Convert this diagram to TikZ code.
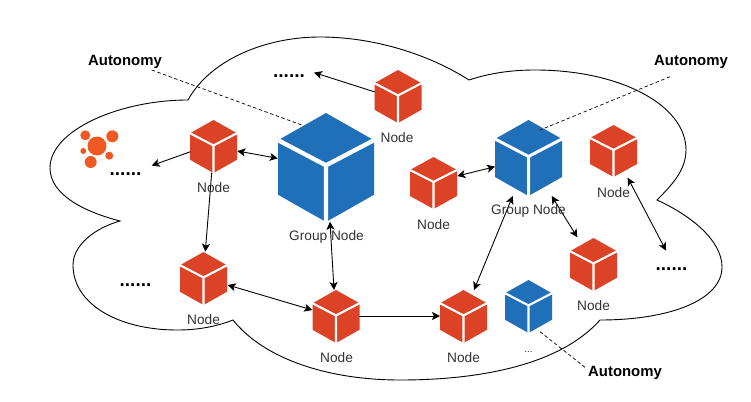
\documentclass[tikz,border=0pt]{standalone}
\usepackage{fontspec}
\setmainfont{Liberation Sans}
\usetikzlibrary{arrows.meta}
\definecolor{cubered}{HTML}{DB4226}
\definecolor{cubeblue}{HTML}{1F70B8}
\definecolor{orangeicon}{HTML}{F05A22}
\definecolor{labelgrey}{HTML}{333333}
\tikzset{
  conn/.style={draw=black,line width=0.9pt,-{Stealth[length=8pt,width=8pt,inset=2pt]}},
  biconn/.style={draw=black,line width=0.9pt,{Stealth[length=8pt,width=8pt,inset=2pt]}-{Stealth[length=8pt,width=8pt,inset=2pt]}},
  dashconn/.style={draw=black,line width=0.7pt,dash pattern=on 3.5pt off 2.5pt},
  nodelabel/.style={font=\fontsize{13.7}{15}\selectfont,text=labelgrey,inner sep=0pt},
  autolabel/.style={font=\fontsize{14.9}{16}\selectfont\bfseries,text=black,inner sep=0pt},
  dotslabel/.style={font=\fontsize{19}{20}\selectfont\bfseries,text=black,inner sep=0pt,anchor=base},
  cloudline/.style={draw=black,line width=0.9pt},
}
\newcommand{\cubenode}[6]{%
  \begin{scope}[shift={(#2,#3)},x=#4pt,y=-#5pt]
    \fill[#6] (0,-.5) -- (.5,-.25) -- (.5,.25) -- (0,.5) -- (-.5,.25) -- (-.5,-.25) -- cycle;
    \draw[white,line width={0.045*#4 pt}] (-.52,-.26) -- (0,-.02) -- (.52,-.26) (0,-.02) -- (0,.52);
  \end{scope}
  \node[inner sep=0pt,minimum width=#4pt,minimum height=#5pt] (#1) at (#2,#3) {};
}
\begin{document}
\begin{tikzpicture}[x=1pt,y=-1pt]
\useasboundingbox (0,0) rectangle (751,401);
\fill[white] (0,0) rectangle (751,401);
% cloud
\draw[cloudline] (188,100)
  .. controls (210,60) and (265,37) .. (320,37)
  .. controls (375,37) and (430,55) .. (469,80)
  .. controls (490,73) and (512,70) .. (535,70)
  .. controls (620,70) and (686,105) .. (686,150)
  .. controls (686,170) and (672,185) .. (657,200)
  .. controls (690,215) and (722,240) .. (722,267)
  .. controls (722,300) and (670,320) .. (600,320)
  .. controls (560,365) and (480,380) .. (400,380)
  .. controls (330,380) and (265,360) .. (233,320)
  .. controls (215,327) and (197,330) .. (177,330)
  .. controls (120,330) and (73,305) .. (73,265)
  .. controls (73,245) and (95,228) .. (120,221)
  .. controls (85,212) and (50,195) .. (50,168)
  .. controls (50,130) and (120,100) .. (188,100) -- cycle;
% orange cluster icon
\fill[orangeicon] (97,146) circle (9.5) (85.3,135.3) circle (5) (112.3,136.3) circle (6)
  (83.3,151) circle (3) (109.3,155.7) circle (4) (90.7,162) circle (6);
% cubes
\cubenode{ntop}{398}{96.5}{47}{53}{cubered}
\cubenode{nleft}{213.5}{146.5}{47}{53}{cubered}
\cubenode{gbig}{326}{167.5}{96}{109}{cubeblue}
\cubenode{gmid}{528.5}{158}{67}{76}{cubeblue}
\cubenode{gsmall}{528.5}{306.5}{47}{53}{cubeblue}
\cubenode{ncentre}{433.5}{183}{47}{52}{cubered}
\cubenode{nright}{613.5}{151}{47}{52}{cubered}
\cubenode{nlowr}{593.5}{264.5}{47}{53}{cubered}
\cubenode{nlowl}{203.5}{278.5}{47}{53}{cubered}
\cubenode{nbota}{336}{316.5}{47}{53}{cubered}
\cubenode{nbotb}{463.5}{316.5}{47}{53}{cubered}
% dots and autonomy labels
\node[dotslabel] (dtop) at (289,78) {......};
\node[dotslabel] (dleft) at (125.5,175) {......};
\node[dotslabel] (dlow) at (135.5,286) {......};
\node[dotslabel] (dright) at (671.5,270) {......};
\node[autolabel] (atl) at (125,61.5) {Autonomy};
\node[autolabel] (atr) at (691,61.5) {Autonomy};
\node[autolabel] (abr) at (625,372.5) {Autonomy};
% connectors
\draw[conn] ([shift={(-23,-4.5)}]ntop.center) -- ([shift={(25,-4)}]dtop.center);
\draw[conn] ([shift={(-23,5.2)}]nleft.center) -- ([shift={(26.2,-8)}]dleft.center);
\draw[biconn] ([shift={(23.8,4.5)}]nleft.center) -- ([shift={(-48.3,-9.2)}]gbig.center);
\draw[conn] ([shift={(-1.8,26.2)}]nleft.center) -- ([shift={(1.8,-26.8)}]nlowl.center);
\draw[biconn] ([shift={(4,54.2)}]gbig.center) -- ([shift={(-2,-26.5)}]nbota.center);
\draw[biconn] ([shift={(24.2,6.5)}]nlowl.center) -- ([shift={(-23.7,-6.5)}]nbota.center);
\draw[conn] ([shift={(23.3,-0.5)}]nbota.center) -- ([shift={(-23.5,-0.5)}]nbotb.center);
\draw[biconn] ([shift={(10.5,-26.5)}]nbotb.center) -- ([shift={(-15.8,38)}]gmid.center);
\draw[biconn] ([shift={(23.2,38)}]gmid.center) -- ([shift={(-16.2,-27.2)}]nlowr.center);
\draw[biconn] ([shift={(23.8,-7)}]ncentre.center) -- ([shift={(-33.5,8.7)}]gmid.center);
\draw[biconn] ([shift={(14.2,26.7)}]nright.center) -- ([shift={(-5.5,-18)}]dright.center);
\draw[dashconn] ([shift={(26.7,8.5)}]atl.center) -- ([shift={(-24.3,-42.5)}]gbig.center);
\draw[dashconn] ([shift={(-21,15.2)}]atr.center) -- ([shift={(11.5,-28)}]gmid.center);
\draw[dashconn] ([shift={(11.5,25.2)}]gsmall.center) -- ([shift={(-40,-5.2)}]abr.center);
% cube labels
\node[nodelabel] (lntop) at (397,138) {Node};
\node[nodelabel] (lnleft) at (213.5,188) {Node};
\node[nodelabel] (lgbig) at (326.5,237) {Group Node};
\node[nodelabel] (lgmid) at (528.5,211) {Group Node};
\node[nodelabel] (lncentre) at (433.5,225) {Node};
\node[nodelabel] (lnright) at (613.5,193) {Node};
\node[nodelabel] (lnlowr) at (593.5,306) {Node};
\node[nodelabel] (lnlowl) at (203.5,320) {Node};
\node[nodelabel] (lnbota) at (336.5,358) {Node};
\node[nodelabel] (lnbotb) at (463.5,358) {Node};
\node[font=\fontsize{10}{12}\selectfont,text=labelgrey,inner sep=0pt] (lgsmall) at (528.5,351.5) {...};
\end{tikzpicture}
\end{document}
